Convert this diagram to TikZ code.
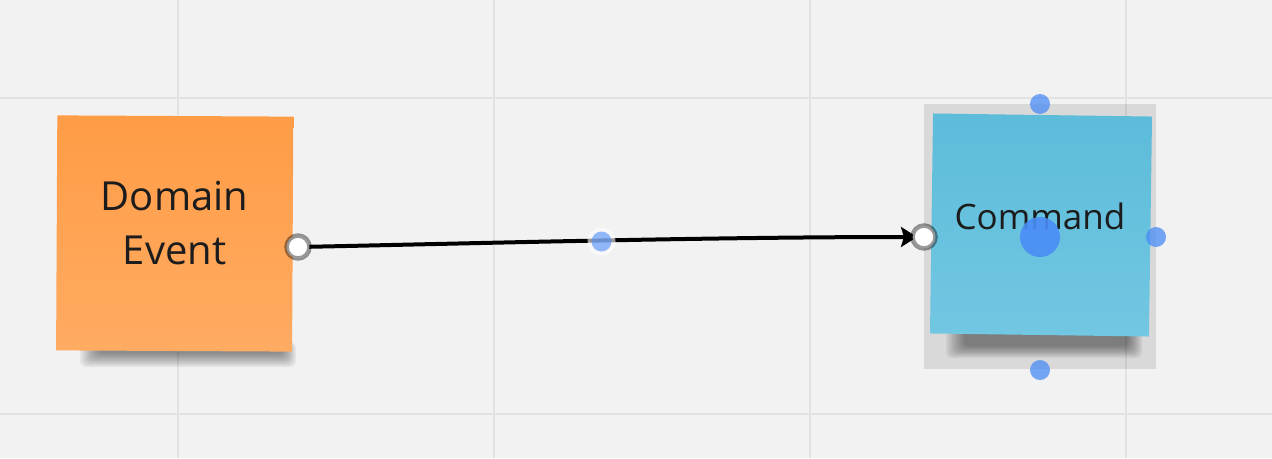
\documentclass[tikz,border=0pt]{standalone}
\usepackage{fontspec}
\setmainfont{Open Sans}
\usetikzlibrary{arrows.meta}
\definecolor{board}{HTML}{F2F2F2}
\definecolor{gridline}{HTML}{E2E2E2}
\definecolor{orangetop}{HTML}{FF9C46}
\definecolor{orangebot}{HTML}{FFAB62}
\definecolor{bluetop}{HTML}{5CBCDA}
\definecolor{bluebot}{HTML}{72C7E2}
\definecolor{handle}{HTML}{4A8CF6}
\definecolor{ink}{HTML}{1C1C1C}
\tikzstyle{sticky}=[inner sep=0pt]
\tikzstyle{shadowstep}=[black, opacity=0.05, rounded corners=6pt]
\tikzstyle{stickytext}=[text=ink, align=center, inner sep=0pt]
\tikzstyle{endring}=[circle, fill=white, draw=black, draw opacity=0.4, line width=4.5pt, inner sep=0pt, minimum size=23pt]
\tikzstyle{handledot}=[circle, fill=handle, fill opacity=0.75, inner sep=0pt, minimum size=20pt]

\begin{document}
\begin{tikzpicture}[x=1pt, y=-1pt]
        \fill[board] (0,0) rectangle (1272,458);
        \useasboundingbox (0,0) rectangle (1272,458);
        \foreach \gx in {178, 494, 810, 1126}
            \draw[gridline, line width=2pt] (\gx,0) -- (\gx,458);
        \foreach \gy in {98, 414}
            \draw[gridline, line width=2pt] (0,\gy) -- (1272,\gy);
        % selection frame
        \fill[black, opacity=0.1] (924,104) rectangle (1156,369);
        % shadows under the notes
        \foreach \k in {0,...,9} {
            \fill[shadowstep] (80+2*\k,342) rectangle (296-1.5*\k,367-1.5*\k);
            \fill[shadowstep] (946+2*\k,326) rectangle (1142-1.5*\k,358-1.3*\k);
        }
        \node[sticky, top color=orangetop, bottom color=orangebot, minimum width=236pt, minimum height=235pt, rotate=-0.3] (event) at (174.7,233.5) {};
        \node[sticky, top color=bluetop, bottom color=bluebot, minimum width=219pt, minimum height=220pt, rotate=-0.8] (command) at (1041,225) {};
        \node[stickytext, font=\fontsize{40}{54}\selectfont] (eventtext) at (174.5,223.5) {Domain\\Event};
        \node[stickytext, font=\fontsize{35}{47}\selectfont] (commandtext) at (1040,216) {Command};
        \coordinate (tail) at (298,247);
        \coordinate (head) at (924,237);
        \draw[line width=4pt, -{Stealth[length=16pt, width=20pt, inset=3pt]}, shorten >=7pt] (tail) .. controls (450,244) and (700,237) .. (head);
        \node[endring] (tailring) at (tail) {};
        \node[endring] (headring) at (head) {};
        \node[circle, fill=white, fill opacity=0.6, inner sep=0pt, minimum size=28pt] (midhalo) at (601.5,241.5) {};
        \node[handledot, fill opacity=0.6] (midhandle) at (midhalo) {};
        % resize handles
        \node[handledot] (tophandle) at (1040,104) {};
        \node[handledot] (righthandle) at (1156,237) {};
        \node[handledot] (bottomhandle) at (1040,370) {};
        \node[handledot, fill opacity=0.9, minimum size=40pt] (centerhandle) at (1040,237) {};
    \end{tikzpicture}
\end{document}
